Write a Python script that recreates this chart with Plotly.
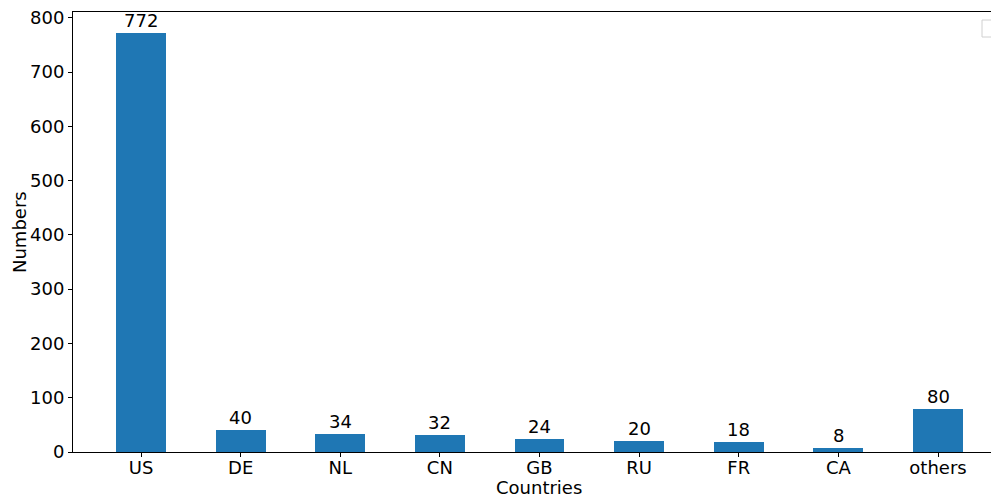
import plotly.graph_objects as go

# Country counts
countries = ["US", "DE", "NL", "CN", "GB", "RU", "FR", "CA", "others"]
numbers = [772, 40, 34, 32, 24, 20, 18, 8, 80]
y_ticks = [0, 100, 200, 300, 400, 500, 600, 700, 800]

FONT = "DejaVu Sans"
FS = 18
BAR_COLOR = "#1f77b4"

W, H = 991, 497
L, T, B = 73, 12, 45
plot_w = W - L
plot_h = H - T - B

idx = list(range(len(countries)))

fig = go.Figure(
    go.Bar(
        x=idx,
        y=numbers,
        width=0.5,
        marker=dict(color=BAR_COLOR, line=dict(width=0)),
        showlegend=False,
    )
)

# value labels above each bar
for i, v in zip(idx, numbers):
    fig.add_annotation(
        x=i, y=v, text=str(v), showarrow=False,
        yanchor="bottom", yshift=0,
        font=dict(family=FONT, size=FS, color="black"),
    )

# axis titles placed relative to the full axis span
fig.add_annotation(
    xref="paper", yref="paper", x=(539 - L) / plot_w, y=(T + plot_h - 487) / plot_h,
    text="Countries", showarrow=False, xanchor="center", yanchor="middle",
    font=dict(family=FONT, size=FS, color="black"),
)
fig.add_annotation(
    xref="paper", yref="paper", x=(19 - L) / plot_w, y=0.5,
    text="Numbers", showarrow=False, textangle=-90,
    xanchor="center", yanchor="middle",
    font=dict(family=FONT, size=FS, color="black"),
)

# empty legend frame at the upper right
lx0, lx1 = (982 - L) / plot_w, (1010 - L) / plot_w
ly1, ly0 = (T + plot_h - 20) / plot_h, (T + plot_h - 37) / plot_h
fig.add_shape(
    type="rect", xref="paper", yref="paper",
    x0=lx0, x1=lx1, y0=ly0, y1=ly1,
    line=dict(color="#d0d0d0", width=1), fillcolor="rgba(255,255,255,0.8)",
)

fig.update_layout(
    width=W, height=H,
    margin=dict(l=L, r=0, t=T, b=B, pad=0),
    paper_bgcolor="white", plot_bgcolor="white",
    font=dict(family=FONT, size=FS, color="black"),
    bargap=0,
    xaxis=dict(
        range=[-0.6826, -0.6826 + plot_w / 99.625],
        tickmode="array", tickvals=idx, ticktext=countries,
        ticks="outside", ticklen=4, tickwidth=1, tickcolor="black",
        ticklabelstandoff=-5,
        showline=True, linecolor="black", linewidth=1, mirror=True,
        showgrid=False, zeroline=False,
        tickfont=dict(family=FONT, size=FS, color="black"),
    ),
    yaxis=dict(
        range=[0, 810.6],
        tickmode="array", tickvals=y_ticks,
        ticks="outside", ticklen=4, tickwidth=1, tickcolor="black",
        showline=True, linecolor="black", linewidth=1, mirror=False,
        showgrid=False, zeroline=False,
        tickfont=dict(family=FONT, size=FS, color="black"),
    ),
)

fig.write_html("out.html")
